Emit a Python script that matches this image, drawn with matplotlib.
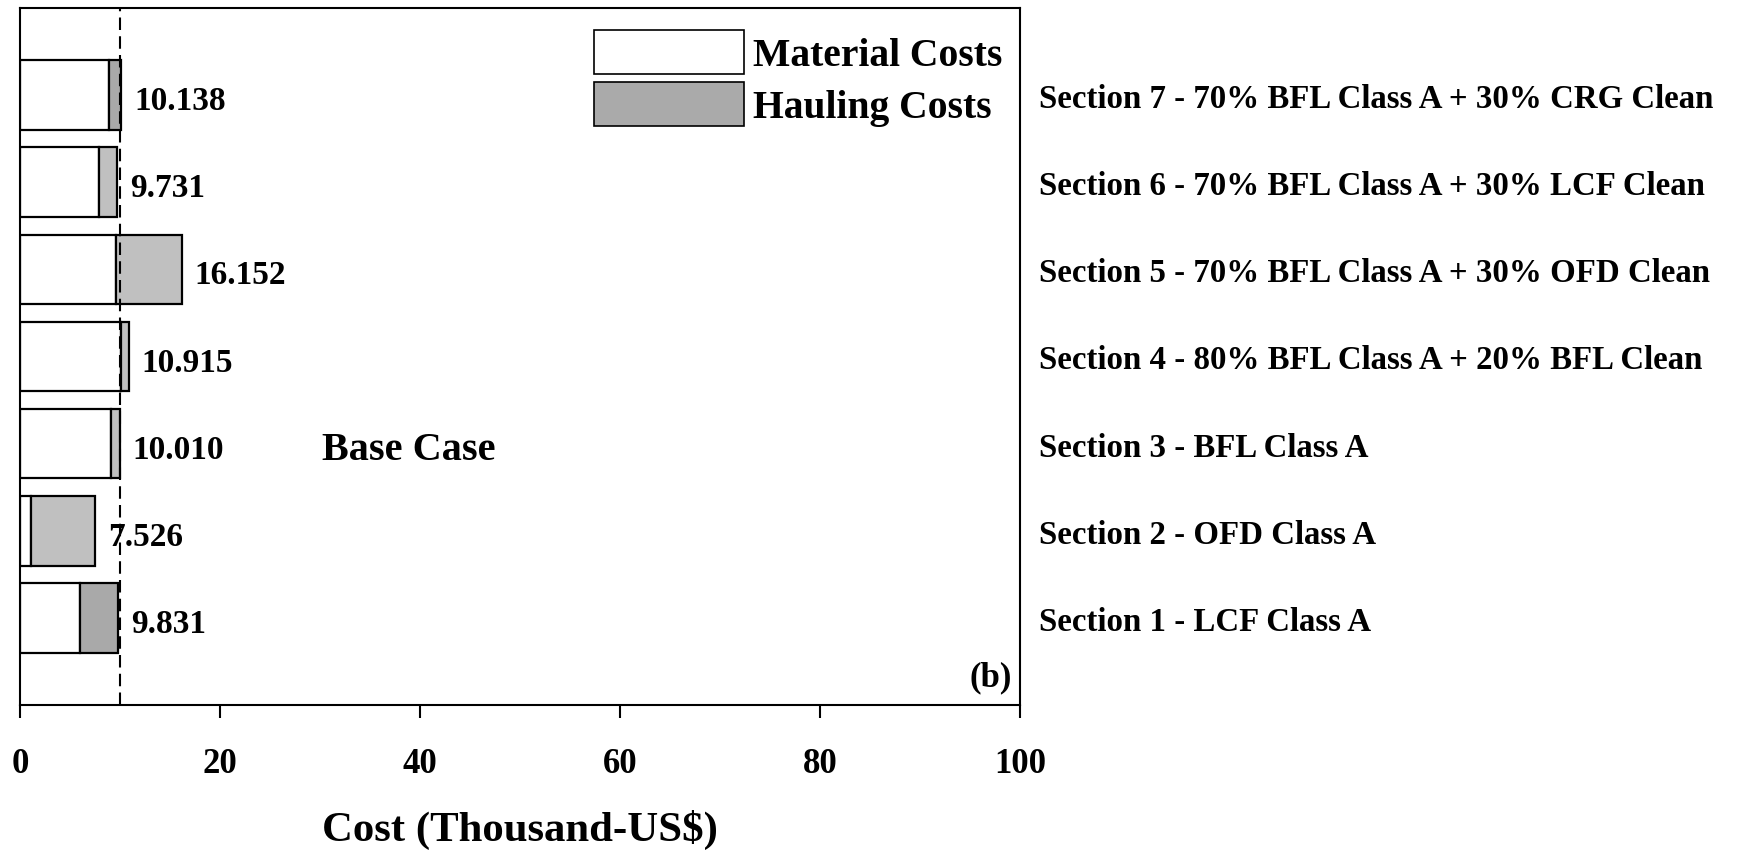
import matplotlib
matplotlib.use('Agg')
import matplotlib.pyplot as plt
from matplotlib.patches import Patch

# cost per road section, in thousand US$
sections = ['Section 1 - LCF Class A',
            'Section 2 - OFD Class A',
            'Section 3 - BFL Class A',
            'Section 4 - 80% BFL Class A + 20% BFL Clean',
            'Section 5 - 70% BFL Class A + 30% OFD Clean',
            'Section 6 - 70% BFL Class A + 30% LCF Clean',
            'Section 7 - 70% BFL Class A + 30% CRG Clean']
total_cost = [9.831, 7.526, 10.010, 10.915, 16.152, 9.731, 10.138]
material_cost = [6.0, 1.1, 9.1, 10.1, 9.6, 7.9, 8.9]
hauling_cost = [t - m for t, m in zip(total_cost, material_cost)]
base_case = 10.010
base_case_index = 2

hauling_colors = ['#a9a9a9', '#c0c0c0', '#c0c0c0', '#c0c0c0',
                  '#c0c0c0', '#c0c0c0', '#a9a9a9']

plt.rcParams['font.family'] = ['Liberation Serif', 'DejaVu Serif']
plt.rcParams['font.weight'] = 'bold'

fig = plt.figure(figsize=(17.42, 8.53), dpi=100)
ax = fig.add_axes([20 / 1742, 1 - 706 / 853, 1000 / 1742, 697 / 853])

ypos = range(1, len(sections) + 1)
ax.barh(ypos, material_cost, height=0.8, color='white',
        edgecolor='black', linewidth=1.6)
ax.barh(ypos, hauling_cost, left=material_cost, height=0.8,
        color=hauling_colors, edgecolor='black', linewidth=1.6)

for y, total in zip(ypos, total_cost):
    ax.annotate('{:.3f}'.format(total), xy=(total, y), xytext=(9, -4),
                textcoords='offset points', ha='left', va='center',
                fontsize=24, fontweight='bold')

# base case reference line
ax.axvline(base_case, color='black', linestyle=(0, (6, 3)), linewidth=1.5)
ax.text(30.2, base_case_index + 0.93, 'Base Case', ha='left', va='center',
        fontsize=29, fontweight='bold')
ax.text(99.2, 0.32, '(b)', ha='right', va='center',
        fontsize=25, fontweight='bold')

ax.set_xlim(0, 100)
ax.set_ylim(0, 8)
ax.set_xticks(range(0, 101, 20))
ax.set_yticks(list(ypos))
ax.set_yticklabels(sections)
ax.tick_params(axis='x', direction='out', length=9, width=1.5,
               labelsize=25, pad=21)
ax.tick_params(axis='y', left=False, right=False, labelleft=False,
               labelright=True, labelsize=23.7, pad=10.5)
for label in ax.get_xticklabels() + ax.get_yticklabels():
    label.set_fontweight('bold')
for spine in ax.spines.values():
    spine.set_linewidth(1.5)

ax.set_xlabel('Cost (Thousand-US$)', fontsize=30.8, fontweight='bold',
              labelpad=21)

handles = [Patch(facecolor='white', edgecolor='black', linewidth=1.2,
                 label='Material Costs'),
           Patch(facecolor='#aaaaaa', edgecolor='black', linewidth=1.2,
                 label='Hauling Costs')]
fig.legend(handles=handles, loc='upper left',
           bbox_to_anchor=(594 / 1742, 1 - 31 / 853), frameon=False,
           prop={'size': 28.5, 'weight': 'bold'}, handlelength=3.8,
           handleheight=1.33, handletextpad=0.22, labelspacing=0.2,
           borderpad=0, borderaxespad=0)

fig.savefig('out.png', dpi=100)
